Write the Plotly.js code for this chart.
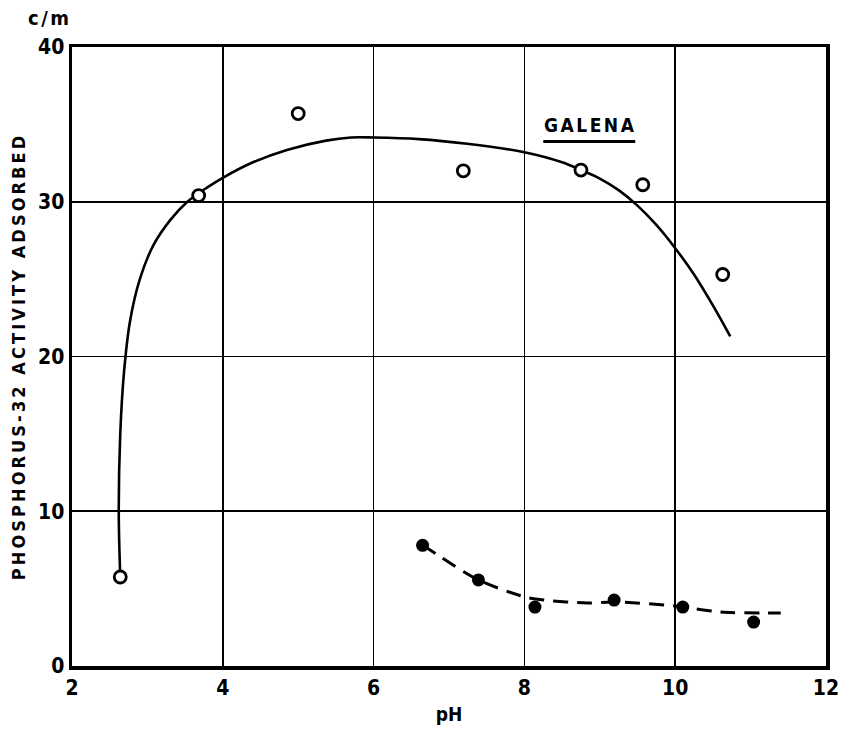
<!DOCTYPE html>
<html>
<head>
<meta charset="utf-8">
<script src="https://cdn.plot.ly/plotly-3.0.1.min.js"></script>
<style>
  html, body { margin: 0; padding: 0; background: #fff; }
  #chart { width: 849px; height: 732px; }
  .ytitle { letter-spacing: 3.1px; }
  .annotation-text { letter-spacing: 2.5px; }
</style>
</head>
<body>
<div id="chart"></div>
<script>
// Measured adsorption on galena (open circles) and the blank run (filled circles)
const openPH   = [2.64, 3.68, 5.0, 7.19, 8.75, 9.57, 10.63];
const openCPM  = [5.75, 30.4, 35.7, 32.0, 32.05, 31.1, 25.3];

const filledPH  = [6.65, 7.39, 8.14, 9.19, 10.1, 11.04];
const filledCPM = [7.8, 5.56, 3.81, 4.26, 3.81, 2.84];

// Hand-faired curve through the galena points
const curvePH  = [2.64, 2.62, 2.64, 2.69, 2.77, 2.90, 3.08, 3.30, 3.53, 3.8, 4.0, 4.4, 4.85, 5.37, 5.7, 6.0, 6.6, 7.24, 8.0, 8.5, 8.75, 9.0, 9.25, 9.5, 9.75, 10.0, 10.25, 10.5, 10.73];
const curveCPM = [5.75, 10.0, 15.0, 19.0, 22.3, 25.0, 27.2, 28.8, 30.0, 30.95, 31.55, 32.55, 33.35, 33.95, 34.15, 34.15, 34.05, 33.75, 33.2, 32.55, 32.05, 31.5, 30.75, 29.75, 28.5, 27.0, 25.3, 23.3, 21.3];

// Dashed curve through the blank run
const dashPH  = [6.65, 7.39, 8.01, 8.26, 8.84, 9.18, 10.0, 10.6, 11.4];
const dashCPM = [7.82, 5.56, 4.46, 4.26, 4.07, 4.14, 3.88, 3.49, 3.42];

const xTicks = [2, 4, 6, 8, 10, 12];
const yTicks = [0, 10, 20, 30, 40];

const inkFont = { family: "DejaVu Sans Condensed, DejaVu Sans, sans-serif", color: "#000", weight: "bold" };

const traces = [
  {
    x: curvePH, y: curveCPM, mode: "lines", type: "scatter",
    line: { color: "#000", width: 2.6, shape: "spline", smoothing: 1 },
    hoverinfo: "skip", showlegend: false
  },
  {
    x: dashPH, y: dashCPM, mode: "lines", type: "scatter",
    line: { color: "#000", width: 3, shape: "spline", smoothing: 0.8, dash: "15px,9px" },
    hoverinfo: "skip", showlegend: false
  },
  {
    x: openPH, y: openCPM, mode: "markers", type: "scatter",
    marker: { symbol: "circle", size: 12, color: "#fff", line: { color: "#000", width: 2.8 } },
    showlegend: false
  },
  {
    x: filledPH, y: filledCPM, mode: "markers", type: "scatter",
    marker: { symbol: "circle", size: 13, color: "#000", line: { color: "#000", width: 0 } },
    showlegend: false
  }
];

const layout = {
  width: 849, height: 732,
  paper_bgcolor: "#fff", plot_bgcolor: "#fff",
  margin: { l: 72, r: 23, t: 47, b: 66, pad: 0 },
  showlegend: false,
  xaxis: {
    range: [2, 12], tickvals: xTicks, ticktext: xTicks.map(String),
    showgrid: true, gridcolor: "#000", gridwidth: 1.6,
    zeroline: false, showline: true, linecolor: "#000", linewidth: 3.5, mirror: true,
    ticks: "", tickfont: Object.assign({ size: 21 }, inkFont),
    title: { text: "pH", font: Object.assign({ size: 19 }, inkFont), standoff: 10 },
    automargin: false
  },
  yaxis: {
    range: [0, 40], tickvals: yTicks, ticktext: yTicks.map(String),
    showgrid: true, gridcolor: "#000", gridwidth: 1.6,
    zeroline: false, showline: true, linecolor: "#000", linewidth: 3.5, mirror: true,
    ticks: "", ticklabelstandoff: 0, tickfont: Object.assign({ size: 21 }, inkFont),
    title: { text: "PHOSPHORUS-32 ACTIVITY ADSORBED", font: Object.assign({ size: 18 }, inkFont), standoff: 8 },
    automargin: false
  },
  annotations: [
    {
      xref: "paper", yref: "paper", x: -0.029, y: 1.047, xanchor: "center", yanchor: "middle",
      text: "c/m", showarrow: false, font: Object.assign({ size: 20 }, inkFont)
    },
    {
      xref: "x", yref: "y", x: 8.87, y: 34.93, xanchor: "center", yanchor: "middle",
      text: "GALENA", showarrow: false, font: Object.assign({ size: 19 }, inkFont)
    }
  ],
  shapes: [
    {
      type: "line", xref: "x", yref: "y", x0: 8.25, x1: 9.47, y0: 33.9, y1: 33.9,
      line: { color: "#000", width: 3 }
    }
  ]
};

Plotly.newPlot("chart", traces, layout, { staticPlot: true, displayModeBar: false });
</script>
</body>
</html>
